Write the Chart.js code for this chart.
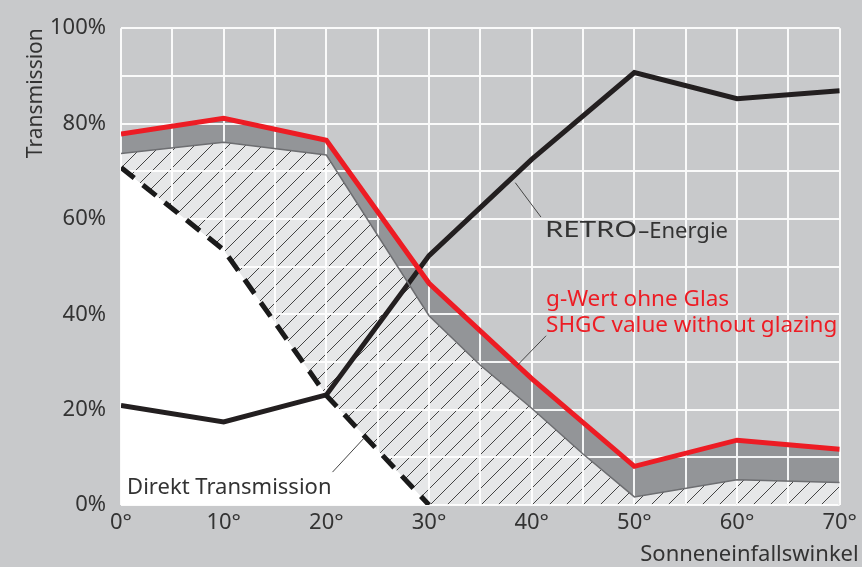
<!DOCTYPE html>
<html>
<head>
<meta charset="utf-8">
<script src="https://cdn.jsdelivr.net/npm/chart.js@4/dist/chart.umd.min.js"></script>
<style>
  html, body { margin: 0; padding: 0; background: #c8c9cb; }
  #wrap { width: 862px; height: 567px; }
</style>
</head>
<body>
<div id="wrap"><canvas id="chart" width="862" height="567"></canvas></div>
<script>
// Sonneneinfallswinkel (deg) and Transmission (%)
const angles = [0, 10, 20, 30, 40, 50, 60, 70];
const gWert = [77.8, 81.1, 76.5, 46.5, 26.5, 8.1, 13.6, 11.7];
const retro = [20.9, 17.4, 23.1, 52.3, 72.5, 90.7, 85.2, 86.9];

const direktAngles = [0, 10, 20, 30];
const direkt = [70.8, 53.5, 23.0, 0];

// lower edge of the dark band (top of the hatched area)
const glasAngles = [0, 10, 20, 30, 35, 40, 45, 50, 60, 70];
const glasLower = [73.7, 76.1, 73.4, 39.7, 29.3, 20.3, 10.7, 1.7, 5.3, 4.7];

const xTicks = [0, 10, 20, 30, 40, 50, 60, 70];
const yTicks = [0, 20, 40, 60, 80, 100];

const FONT = '"Noto Sans", sans-serif';
const TEXT = '#333333';
const RED = '#ed1c24';

const pts = (xs, ys) => xs.map((x, i) => ({ x, y: ys[i] }));

const ctx0 = document.getElementById('chart').getContext('2d');

function hatch() {
    const c = document.createElement('canvas');
    c.width = 17; c.height = 17;
    const g = c.getContext('2d');
    g.fillStyle = '#e6e7e8';
    g.fillRect(0, 0, 17, 17);
    g.strokeStyle = '#444';
    g.lineWidth = 1;
    g.beginPath();
    g.moveTo(-1, 18);
    g.lineTo(18, -1);
    g.stroke();
    return ctx0.createPattern(c, 'repeat');
}

// white grid drawn over the fills but under the lines
const gridPlugin = {
    id: 'grid',
    beforeDatasetsDraw(chart) {
        const { ctx, chartArea: a, scales: { x, y } } = chart;
        ctx.save();
        ctx.strokeStyle = 'rgba(255,255,255,0.9)';
        ctx.lineWidth = 2;
        ctx.beginPath();
        x.ticks.forEach(t => {
            const px = Math.round(x.getPixelForValue(t.value));
            ctx.moveTo(px, a.top); ctx.lineTo(px, a.bottom);
        });
        y.ticks.forEach(t => {
            const py = Math.round(y.getPixelForValue(t.value));
            ctx.moveTo(a.left, py); ctx.lineTo(a.right, py);
        });
        ctx.stroke();
        ctx.restore();
    }
};

const labelPlugin = {
    id: 'labels',
    afterDatasetsDraw(chart) {
        const { ctx, chartArea: a, scales: { x, y } } = chart;
        const P = (vx, vy) => [x.getPixelForValue(vx), y.getPixelForValue(vy)];
        ctx.save();
        // leader lines
        ctx.strokeStyle = '#444';
        ctx.lineWidth = 1;
        [[38.4, 67.6, 40.9, 60.4], [38.6, 29.3, 41.4, 35.5], [20.6, 6.9, 23.7, 14.1]].forEach(l => {
            const p1 = P(l[0], l[1]), p2 = P(l[2], l[3]);
            ctx.beginPath(); ctx.moveTo(p1[0], p1[1]); ctx.lineTo(p2[0], p2[1]); ctx.stroke();
        });
        ctx.textBaseline = 'middle';
        ctx.fillStyle = TEXT;
        let p = P(41.3, 57.4);
        // "RETRO" is set in a wide face in the original
        ctx.font = '21px ' + FONT;
        const sx = 1.4;
        const w = ctx.measureText('RETRO').width * sx;
        ctx.save();
        ctx.translate(p[0], p[1]);
        ctx.scale(sx, 1);
        ctx.fillText('RETRO', 0, 0);
        ctx.restore();
        ctx.font = '22px ' + FONT;
        ctx.fillText('–Energie', p[0] + w + 1, p[1]);
        p = P(20.5, 3.7);
        ctx.textAlign = 'right';
        ctx.fillText('Direkt Transmission', p[0], p[1]);
        ctx.fillText('Sonneneinfallswinkel', a.right + 19, a.bottom + 50);
        ctx.textAlign = 'left';
        ctx.fillStyle = RED;
        ctx.font = '22.5px ' + FONT;
        p = P(41.4, 43.0);
        ctx.fillText('g-Wert ohne Glas', p[0], p[1]);
        p = P(41.4, 37.7);
        ctx.fillText('SHGC value without glazing', p[0], p[1]);
        ctx.restore();
    }
};

new Chart(ctx0, {
    type: 'line',
    data: {
        datasets: [
            {
                label: 'Direkt Transmission',
                data: pts(direktAngles, direkt),
                borderColor: '#1a1a1a',
                borderWidth: 5,
                borderDash: [17, 11],
                borderCapStyle: 'butt',
                backgroundColor: '#ffffff',
                fill: 'origin'
            },
            {
                label: 'g-Wert ohne Glas',
                data: pts(angles, gWert),
                borderColor: RED,
                borderWidth: 5,
                backgroundColor: '#939598',
                fill: '+1'
            },
            {
                label: 'Glas',
                data: pts(glasAngles, glasLower),
                borderColor: '#6d6e71',
                borderWidth: 1.5,
                backgroundColor: hatch(),
                fill: 'origin'
            },
            {
                label: 'RETRO-Energie',
                data: pts(angles, retro),
                borderColor: '#231f20',
                borderWidth: 5,
                fill: false
            }
        ]
    },
    options: {
        responsive: false,
        animation: false,
        layout: { padding: { top: 22, right: 19, left: 0, bottom: 0 } },
        elements: {
            point: { radius: 0 },
            line: { tension: 0, borderJoinStyle: 'miter' }
        },
        plugins: {
            legend: { display: false },
            tooltip: { enabled: false },
            filler: { drawTime: 'beforeDatasetsDraw' }
        },
        scales: {
            x: {
                type: 'linear',
                min: 0, max: 70,
                grid: { display: false, drawTicks: false },
                border: { display: false },
                afterFit: s => { s.height = 62; },
                ticks: {
                    stepSize: 5,
                    autoSkip: false,
                    maxRotation: 0,
                    padding: 5,
                    color: TEXT,
                    font: { family: FONT, size: 22 },
                    callback: v => (xTicks.includes(v) ? v + '°' : '')
                }
            },
            y: {
                min: 0, max: 100,
                grid: { display: false, drawTicks: false },
                border: { display: false },
                afterFit: s => { s.width = 121; },
                title: {
                    display: true,
                    text: 'Transmission',
                    align: 'end',
                    color: TEXT,
                    font: { family: FONT, size: 21 },
                    padding: { top: 23, bottom: 0 }
                },
                ticks: {
                    stepSize: 10,
                    autoSkip: false,
                    padding: 15,
                    color: TEXT,
                    font: { family: FONT, size: 22 },
                    callback: v => (yTicks.includes(v) ? v + '%' : '')
                }
            }
        }
    },
    plugins: [gridPlugin, labelPlugin]
});
</script>
</body>
</html>
